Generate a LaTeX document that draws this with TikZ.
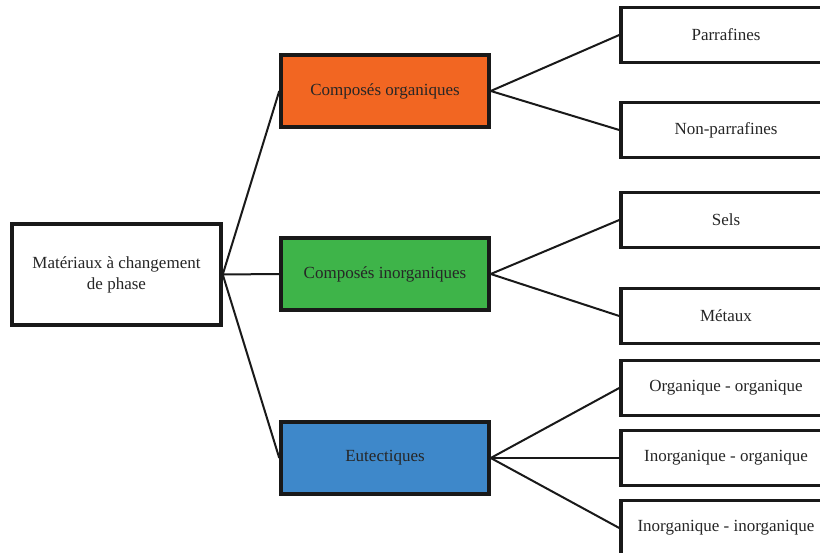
\documentclass[tikz,border=0pt]{standalone}
\usepackage{fontspec}
\setmainfont{Liberation Serif}
\usepackage{tikz}
\usetikzlibrary{
	positioning,
	calc
}

\definecolor{orgcol}{RGB}{242,102,34}
\definecolor{inorgcol}{RGB}{62,180,73}
\definecolor{eutcol}{RGB}{62,136,202}

\begin{document}
\begin{tikzpicture}[x=1pt, y=-1pt,
		box/.style={draw=black!90, line width=3.5pt, fill=white, inner sep=0pt,
			font=\fontsize{17}{21}\selectfont, align=center, text=black!85},
		rootbox/.style={box, minimum width=209pt, minimum height=101pt},
		midbox/.style={box, minimum width=208pt, minimum height=72pt},
		leafbox/.style={box, minimum width=210pt, minimum height=55pt},
		link/.style={line width=2pt, black!90}
	]

		\clip (0, 0) rectangle (820, 553);
		\fill[white] (0, 0) rectangle (820, 553);

		\node[rootbox] (root) at (116.5, 274.5) {Matériaux à changement\\de phase};

		\node[midbox, fill=orgcol] (org) at (385, 91) {Composés organiques};
		\node[midbox, fill=inorgcol] (inorg) at (385, 274) {Composés inorganiques};
		\node[midbox, fill=eutcol] (eut) at (385, 458) {Eutectiques};

		\node[leafbox] (parr) at (726, 35) {Parrafines};
		\node[leafbox] (nonparr) at (726, 130) {Non-parrafines};
		\node[leafbox] (sels) at (726, 220) {Sels};
		\node[leafbox] (metaux) at (726, 316) {Métaux};
		\node[leafbox] (oo) at (726, 388) {Organique - organique};
		\node[leafbox] (io) at (726, 458) {Inorganique - organique};
		\node[leafbox] (ii) at (726, 528) {Inorganique - inorganique};

		% root to families
		\foreach \m in {org, inorg, eut} {
		\draw[link] (root.east) -- (\m.west);
		}

		% families to leaves
		\foreach \m/\l in {org/parr, org/nonparr, inorg/sels, inorg/metaux, eut/oo, eut/io, eut/ii} {
		\draw[link] (\m.east) -- (\l.west);
		}

	\end{tikzpicture}
\end{document}
